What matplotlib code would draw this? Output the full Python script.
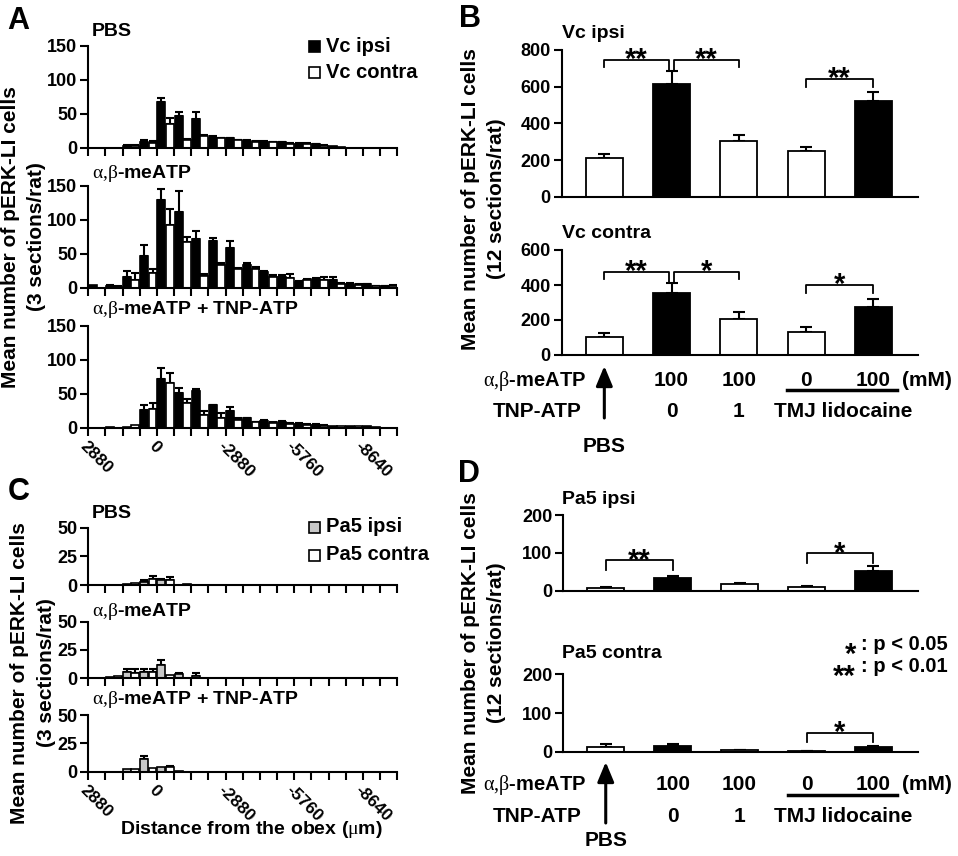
import numpy as np
import matplotlib.pyplot as plt
import matplotlib.transforms as mtransforms
from matplotlib.patches import Rectangle

plt.rcParams['font.family'] = ['Liberation Sans', 'DejaVu Sans']
plt.rcParams['font.weight'] = 'bold'
plt.rcParams['mathtext.fontset'] = 'custom'
plt.rcParams['mathtext.rm'] = 'Liberation Serif:weight=normal'
plt.rcParams['mathtext.it'] = 'Liberation Serif:italic:weight=normal'
plt.rcParams['axes.linewidth'] = 1.5

# ---- data: panel A (Vc, per 720 um bin along the rostro-caudal axis) ----
dist_ticks = ['2880', '', '', '', '0', '', '', '', '-2880', '', '', '',
              '-5760', '', '', '', '-8640', '', '']

a_pbs_ipsi = [0, 0, 3, 8, 67, 47, 42, 15, 14, 10, 9, 8, 6, 5, 2, 0, 0, 0]
a_pbs_ipsi_err = [0, 0, 1, 3, 6, 6, 11, 2, 1, 1, 1, 1, 1, 1, 0, 0, 0, 0]
a_pbs_contra = [0, 0, 3, 7, 35, 11, 17, 14, 11, 9, 8, 6, 6, 3, 1, 0, 0, 0]
a_pbs_contra_err = [0, 0, 1, 3, 8, 2, 2, 1, 1, 1, 1, 1, 1, 1, 0, 0, 0, 0]

a_me_ipsi = [4, 3, 16, 47, 130, 112, 72, 69, 58, 33, 23, 16, 9, 13, 12, 6, 5, 2]
a_me_ipsi_err = [0, 1, 9, 16, 16, 30, 11, 4, 11, 4, 2, 2, 1, 2, 4, 1, 1, 1]
a_me_contra = [0, 1, 12, 21, 93, 68, 17, 34, 27, 27, 16, 15, 11, 11, 6, 4, 2, 3]
a_me_contra_err = [0, 1, 9, 6, 23, 7, 3, 2, 2, 4, 3, 5, 2, 5, 1, 1, 1, 1]

a_tnp_ipsi = [0, 1, 1, 26, 72, 51, 54, 33, 25, 14, 10, 9, 6, 4, 2, 2, 3, 0]
a_tnp_ipsi_err = [0, 0, 0, 8, 16, 8, 3, 1, 6, 1, 1, 1, 1, 1, 0, 0, 0, 0]
a_tnp_contra = [0, 0, 4, 28, 66, 37, 19, 15, 11, 8, 7, 6, 4, 3, 2, 3, 1, 0]
a_tnp_contra_err = [0, 0, 0, 8, 14, 5, 6, 6, 3, 1, 1, 1, 1, 1, 0, 0, 0, 0]

# ---- data: panel C (Pa5) ----
c_pbs_ipsi = [0, 0, 1, 3, 4, 0, 0, 0, 0, 0, 0, 0, 0, 0, 0, 0, 0, 0]
c_pbs_ipsi_err = [0, 0, 0, 1, 1, 0, 0, 0, 0, 0, 0, 0, 0, 0, 0, 0, 0, 0]
c_pbs_contra = [0, 0, 1.5, 5, 4, 0.5, 0, 0, 0, 0, 0, 0, 0, 0, 0, 0, 0, 0]
c_pbs_contra_err = [0, 0, 0, 3, 3, 0, 0, 0, 0, 0, 0, 0, 0, 0, 0, 0, 0, 0]

c_me_ipsi = [0, 1, 6, 6, 12, 4, 2, 0, 0, 0, 0, 0, 0, 0, 0, 0, 0, 0]
c_me_ipsi_err = [0, 0, 2, 2, 4, 1, 3, 0, 0, 0, 0, 0, 0, 0, 0, 0, 0, 0]
c_me_contra = [0, 2, 5, 6, 3, 0, 0, 0, 0, 0, 0, 0, 0, 0, 0, 0, 0, 0]
c_me_contra_err = [0, 0, 3, 2, 0, 0, 0, 0, 0, 0, 0, 0, 0, 0, 0, 0, 0, 0]

c_tnp_ipsi = [0, 0, 2, 11, 4, 1, 0, 0, 0, 0, 0, 0, 0, 0, 0, 0, 0, 0]
c_tnp_ipsi_err = [0, 0, 0, 3, 0, 0, 0, 0, 0, 0, 0, 0, 0, 0, 0, 0, 0, 0]
c_tnp_contra = [0, 0, 2, 3, 4, 0, 0, 0, 0, 0, 0, 0, 0, 0, 0, 0, 0, 0]
c_tnp_contra_err = [0, 0, 0, 0, 1, 0, 0, 0, 0, 0, 0, 0, 0, 0, 0, 0, 0, 0]

# ---- data: panels B and D (totals, 5 groups) ----
group_fill = ['white', 'black', 'white', 'white', 'black']
me_labels = ['100', '100', '0', '100']
tnp_labels = ['0', '1']

b_ipsi = [209, 613, 305, 249, 524]
b_ipsi_err = [24, 74, 30, 20, 49]
b_contra = [105, 356, 208, 133, 276]
b_contra_err = [23, 57, 40, 25, 46]
d_ipsi = [8, 33, 17, 10, 52]
d_ipsi_err = [3, 6, 3, 2, 13]
d_contra = [13, 16, 4, 2, 13]
d_contra_err = [6, 3, 0, 0, 3]

# significance brackets: (left x, right x, height, left drop, right drop, stars)
b_ipsi_sig = [(0, 0.96, 745, 710, 690, '**'), (1.04, 2, 745, 690, 710, '**'),
              (3, 4, 642, 598, 598, '**')]
b_contra_sig = [(0, 0.96, 476, 434, 415, '**'), (1.04, 2, 476, 415, 434, '*'),
                (3, 4, 400, 352, 352, '*')]
d_ipsi_sig = [(0, 1, 80, 55, 55, '**'), (3, 4, 99, 74, 74, '*')]
d_contra_sig = [(3, 4, 49, 26, 26, '*')]

W, H = 958, 856
fig = plt.figure(figsize=(W / 100, H / 100), dpi=100)
TICK = 13
AB = r'$\mathrm{\alpha{,}\beta}$'


def fy(py):
    return 1 - py / H


def px_axes(l, t, r, b):
    return fig.add_axes([l / W, 1 - b / H, (r - l) / W, (b - t) / H])


def style(ax):
    ax.spines['top'].set_visible(False)
    ax.spines['right'].set_visible(False)
    ax.tick_params(direction='out', length=6, width=1.5, labelsize=TICK, pad=2)


def dist_panel(t, b, ymax, yticks, ipsi, ipsi_err, contra, contra_err, c_ipsi, title, title_y, labels):
    ax = px_axes(88.3, t, 397.3, b)
    style(ax)
    x = np.arange(len(ipsi))
    ax.bar(x + 0.26, ipsi, 0.46, color=c_ipsi, edgecolor='k', lw=1.2, zorder=2)
    ax.bar(x + 0.74, contra, 0.46, color='white', edgecolor='k', lw=1.2, zorder=2)
    for xx, vals, errs in [(x + 0.26, ipsi, ipsi_err), (x + 0.74, contra, contra_err)]:
        errs = np.array(errs, float)
        m = errs > 0
        ax.errorbar(xx[m], np.array(vals, float)[m], yerr=[np.zeros(m.sum()), errs[m]],
                    fmt='none', ecolor='k', elinewidth=1.5, capsize=3, capthick=1.5, zorder=1)
    ax.set_xlim(0, 18)
    ax.set_ylim(0, ymax)
    ax.set_yticks(yticks)
    ax.set_xticks(range(19))
    if labels:
        ax.set_xticklabels(dist_ticks, rotation=-45, ha='left', va='top',
                           rotation_mode='anchor', fontsize=12.5)
    else:
        ax.set_xticklabels([])
    fig.text(92 / W, fy(title_y), title, fontsize=14, va='center', ha='left')
    return ax


dist_panel(45.7, 147.7, 150, [0, 50, 100, 150], a_pbs_ipsi, a_pbs_ipsi_err,
           a_pbs_contra, a_pbs_contra_err, 'black', 'PBS', 32, False)
dist_panel(186, 287.7, 150, [0, 50, 100, 150], a_me_ipsi, a_me_ipsi_err,
           a_me_contra, a_me_contra_err, 'black', AB + '-meATP', 173, False)
dist_panel(326, 427.7, 150, [0, 50, 100, 150], a_tnp_ipsi, a_tnp_ipsi_err,
           a_tnp_contra, a_tnp_contra_err, 'black', AB + '-meATP + TNP-ATP', 310, True)

dist_panel(527.7, 585, 50, [0, 25, 50], c_pbs_ipsi, c_pbs_ipsi_err,
           c_pbs_contra, c_pbs_contra_err, '#c8c8c8', 'PBS', 514, False)
dist_panel(621.7, 678.3, 50, [0, 25, 50], c_me_ipsi, c_me_ipsi_err,
           c_me_contra, c_me_contra_err, '#c8c8c8', AB + '-meATP', 612, False)
dist_panel(715, 771.7, 50, [0, 25, 50], c_tnp_ipsi, c_tnp_ipsi_err,
           c_tnp_contra, c_tnp_contra_err, '#c8c8c8', AB + '-meATP + TNP-ATP', 700, True)

fig.text(251 / W, fy(830), r'Distance from the obex ($\mathrm{\mu}$m)', ha='center', va='center', fontsize=14)


def legend(entries, x, ys):
    for (fc, lab), y in zip(entries, ys):
        fig.add_artist(Rectangle((x / W, fy(y + 5.5)), 11 / W, 11 / H, transform=fig.transFigure,
                                 facecolor=fc, edgecolor='k', lw=1.2))
        fig.text((x + 17) / W, fy(y), lab, fontsize=14.5, va='center', ha='left')


legend([('black', 'Vc ipsi'), ('white', 'Vc contra')], 309, [46, 72])
legend([('#c8c8c8', 'Pa5 ipsi'), ('white', 'Pa5 contra')], 309, [527, 555])


def total_panel(t, b, l, ymax, yticks, vals, errs, sig, title, title_y):
    ax = px_axes(l, t, 918, b)
    style(ax)
    x = np.arange(len(vals))
    ax.bar(x, vals, 0.55, color=group_fill, edgecolor='k', lw=1.3, zorder=2)
    ax.errorbar(x, vals, yerr=[np.zeros(len(errs)), errs], fmt='none', ecolor='k',
                elinewidth=1.5, capsize=4, capthick=1.5, zorder=1)
    for x0, x1, y, d0, d1, s in sig:
        ax.plot([x0, x0, x1, x1], [d0, y, y, d1], color='k', lw=1.3, clip_on=False)
        ax.annotate(s, xy=((x0 + x1) / 2, y), xytext=(0, -6), textcoords='offset points',
                    ha='center', va='baseline', fontsize=21, annotation_clip=False)
    ax.set_ylim(0, ymax)
    ax.set_yticks(yticks)
    ax.tick_params(axis='x', bottom=False, labelbottom=False)
    ax.set_xlim(-0.634, 4.665)
    fig.text(562 / W, fy(title_y), title, fontsize=14, va='center', ha='left')
    return ax


def group_labels(ax, y_me, y_line, y_tnp, y_pbs, arrow_top, arrow_bot):
    tr = mtransforms.blended_transform_factory(ax.transData, fig.transFigure)
    fs = 15
    fig.text(586 / W, fy(y_me), AB + '-meATP', ha='right', va='center', fontsize=14.5)
    for xi, lab in zip([1, 2, 3, 4], me_labels):
        ax.text(xi, fy(y_me), lab, transform=tr, ha='center', va='center', fontsize=fs)
    ax.text(4.42, fy(y_me), '(mM)', transform=tr, ha='left', va='center', fontsize=fs)
    ax.plot([2.72, 4.35], [fy(y_line)] * 2, transform=tr, color='k', lw=2.5, clip_on=False)
    fig.text(582 / W, fy(y_tnp), 'TNP-ATP', ha='right', va='center', fontsize=fs)
    for xi, lab in zip([1, 2], tnp_labels):
        ax.text(xi, fy(y_tnp), lab, transform=tr, ha='center', va='center', fontsize=fs)
    ax.text(3.55, fy(y_tnp), 'TMJ lidocaine', transform=tr, ha='center', va='center', fontsize=fs)
    ax.text(0, fy(y_pbs), 'PBS', transform=tr, ha='center', va='center', fontsize=fs)
    ax.annotate('', xy=(0, fy(arrow_top)), xytext=(0, fy(arrow_bot)), xycoords=tr, textcoords=tr,
                arrowprops=dict(arrowstyle='-|>,head_length=0.6,head_width=0.25', color='k', lw=2.2,
                                mutation_scale=20, shrinkA=0, shrinkB=0), annotation_clip=False)
    ax.set_xlim(-0.634, 4.665)


total_panel(50, 196.7, 561.7, 800, [0, 200, 400, 600, 800], b_ipsi, b_ipsi_err, b_ipsi_sig, 'Vc ipsi', 33)
axb = total_panel(250, 355, 561.7, 600, [0, 200, 400, 600], b_contra, b_contra_err, b_contra_sig, 'Vc contra', 233)
group_labels(axb, 381, 390, 411, 447, 366, 418)

total_panel(515, 590.7, 563.3, 200, [0, 100, 200], d_ipsi, d_ipsi_err, d_ipsi_sig, 'Pa5 ipsi', 500)
axd = total_panel(674.3, 751.7, 563.3, 200, [0, 100, 200], d_contra, d_contra_err, d_contra_sig, 'Pa5 contra', 653)
group_labels(axd, 785, 795, 816, 841, 762, 823)

# p-value key
for y, s, p in [(645, '*', ': p < 0.05'), (667, '**', ': p < 0.01')]:
    fig.text(856 / W, fy(y + 18), s, ha='right', va='baseline', fontsize=21)
    fig.text(861 / W, fy(y), p, ha='left', va='center', fontsize=14.5)

# y axis titles, one text per line
for x1, x2, yc, n in [(11, 37, 237, '3'), (20, 47, 673, '3'), (470, 497, 199, '12'), (470, 497, 643, '12')]:
    fig.text(x1 / W, fy(yc), 'Mean number of pERK-LI cells', rotation=90,
             ha='center', va='center', fontsize=15)
    fig.text(x2 / W, fy(yc), '(%s sections/rat)' % n, rotation=90,
             ha='center', va='center', fontsize=15)

# panel letters
for lab, x, y in [('A', 18, 21), ('B', 470, 19), ('C', 19, 492), ('D', 469, 474)]:
    fig.text(x / W, fy(y), lab, ha='center', va='center', fontsize=22)

fig.savefig('out.png', dpi=100)
